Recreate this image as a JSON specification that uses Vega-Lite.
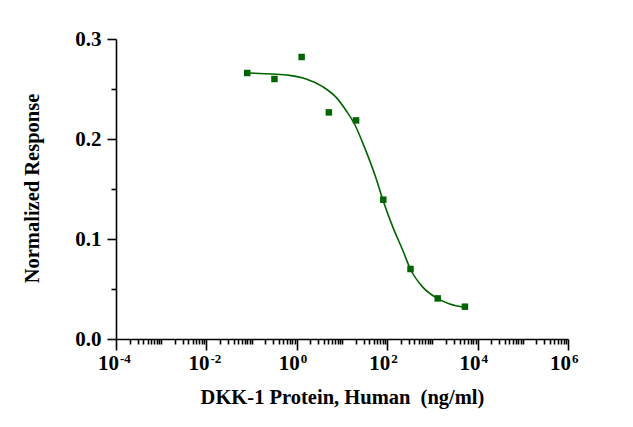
{
  "$schema": "https://vega.github.io/schema/vega-lite/v6.json",
  "autosize": {"type": "none"},
  "padding": {"left": 116, "top": 39, "right": 65, "bottom": 88},
  "width": 452,
  "height": 300,
  "background": "white",
  "datasets": {
    "points": [
      {"conc": 0.08, "response": 0.266},
      {"conc": 0.32, "response": 0.26},
      {"conc": 1.28, "response": 0.282},
      {"conc": 5.12, "response": 0.2266},
      {"conc": 20.48, "response": 0.2186},
      {"conc": 81.92, "response": 0.1393},
      {"conc": 327.68, "response": 0.07},
      {"conc": 1310.72, "response": 0.0406},
      {"conc": 5242.88, "response": 0.0323}
    ],
    "fit": [
      {"conc": 0.0815, "response": 0.266},
      {"conc": 0.292, "response": 0.265},
      {"conc": 0.686, "response": 0.2636},
      {"conc": 1.61, "response": 0.26},
      {"conc": 3.75, "response": 0.2523},
      {"conc": 7.43, "response": 0.2416},
      {"conc": 12.4, "response": 0.2283},
      {"conc": 18.9, "response": 0.215},
      {"conc": 31.5, "response": 0.1916},
      {"conc": 57.3, "response": 0.16},
      {"conc": 80.3, "response": 0.139},
      {"conc": 134, "response": 0.1116},
      {"conc": 223, "response": 0.0883},
      {"conc": 325, "response": 0.07},
      {"conc": 619, "response": 0.0516},
      {"conc": 1291, "response": 0.0406},
      {"conc": 2421, "response": 0.035},
      {"conc": 5200, "response": 0.0316}
    ],
    "xlabels": [
      {"conc": 0.0001, "response": 0, "base": "10", "exp": "-4"},
      {"conc": 0.01, "response": 0, "base": "10", "exp": "-2"},
      {"conc": 1, "response": 0, "base": "10", "exp": "0"},
      {"conc": 100, "response": 0, "base": "10", "exp": "2"},
      {"conc": 10000, "response": 0, "base": "10", "exp": "4"},
      {"conc": 1000000, "response": 0, "base": "10", "exp": "6"}
    ]
  },
  "encoding": {
    "x": {
      "field": "conc",
      "type": "quantitative",
      "scale": {"type": "log", "domain": [0.0001, 1000000], "nice": false},
      "axis": {
        "title": "DKK-1 Protein, Human \u00a0(ng/ml)",
        "values": [0.0001, 0.0002, 0.0003, 0.0004, 0.0005, 0.0006, 0.0007, 0.0008, 0.0009,
                   0.001, 0.002, 0.003, 0.004, 0.005, 0.006, 0.007, 0.008, 0.009,
                   0.01, 0.02, 0.03, 0.04, 0.05, 0.06, 0.07, 0.08, 0.09,
                   0.1, 0.2, 0.3, 0.4, 0.5, 0.6, 0.7, 0.8, 0.9,
                   1, 2, 3, 4, 5, 6, 7, 8, 9,
                   10, 20, 30, 40, 50, 60, 70, 80, 90,
                   100, 200, 300, 400, 500, 600, 700, 800, 900,
                   1000, 2000, 3000, 4000, 5000, 6000, 7000, 8000, 9000,
                   10000, 20000, 30000, 40000, 50000, 60000, 70000, 80000, 90000,
                   100000, 200000, 300000, 400000, 500000, 600000, 700000, 800000, 900000,
                   1000000],
        "labels": false,
        "tickSize": {
          "condition": {"test": "indexof([0.0001, 0.01, 1, 100, 10000, 1000000], datum.value) >= 0", "value": 11},
          "value": 5
        },
        "titleX": 226,
        "titleY": 64,
        "titleBaseline": "alphabetic"
      }
    },
    "y": {
      "field": "response",
      "type": "quantitative",
      "scale": {"domain": [0, 0.3], "nice": false, "zero": true},
      "axis": {
        "title": "Normalized Response",
        "values": [0, 0.05, 0.1, 0.15, 0.2, 0.25, 0.3],
        "labelExpr": "indexof([0, 0.1, 0.2, 0.3], datum.value) >= 0 ? format(datum.value, '.1f') : ''",
        "tickSize": {
          "condition": {"test": "indexof([0, 0.1, 0.2, 0.3], datum.value) >= 0", "value": 9},
          "value": 5
        },
        "labelFontSize": 21,
        "labelPadding": 6,
        "labelOverlap": false,
        "titleX": -78,
        "titleY": 149,
        "titleBaseline": "alphabetic"
      }
    }
  },
  "layer": [
    {
      "data": {"name": "fit"},
      "mark": {"type": "line", "color": "#006400", "strokeWidth": 1.6, "interpolate": "monotone"}
    },
    {
      "data": {"name": "points"},
      "mark": {"type": "square", "color": "#006400", "filled": true, "opacity": 1, "size": 42}
    },
    {
      "data": {"name": "xlabels"},
      "mark": {"type": "text", "align": "right", "baseline": "alphabetic", "dx": 3, "dy": 31, "font": "Liberation Serif", "fontWeight": "bold", "fontSize": 21, "color": "black"},
      "encoding": {"text": {"field": "base"}}
    },
    {
      "data": {"name": "xlabels"},
      "mark": {"type": "text", "align": "left", "baseline": "alphabetic", "dx": 4, "dy": 24, "font": "Liberation Serif", "fontWeight": "bold", "fontSize": 13, "color": "black"},
      "encoding": {"text": {"field": "exp"}}
    }
  ],
  "config": {
    "view": {"stroke": null},
    "axis": {
      "grid": false,
      "domainColor": "black",
      "domainWidth": 1.6,
      "tickColor": "black",
      "tickWidth": 1.6,
      "labelFont": "Liberation Serif",
      "labelFontWeight": "bold",
      "labelFontSize": 20,
      "labelColor": "black",
      "titleFont": "Liberation Serif",
      "titleFontWeight": "bold",
      "titleFontSize": 20.5,
      "titleColor": "black"
    }
  }
}
